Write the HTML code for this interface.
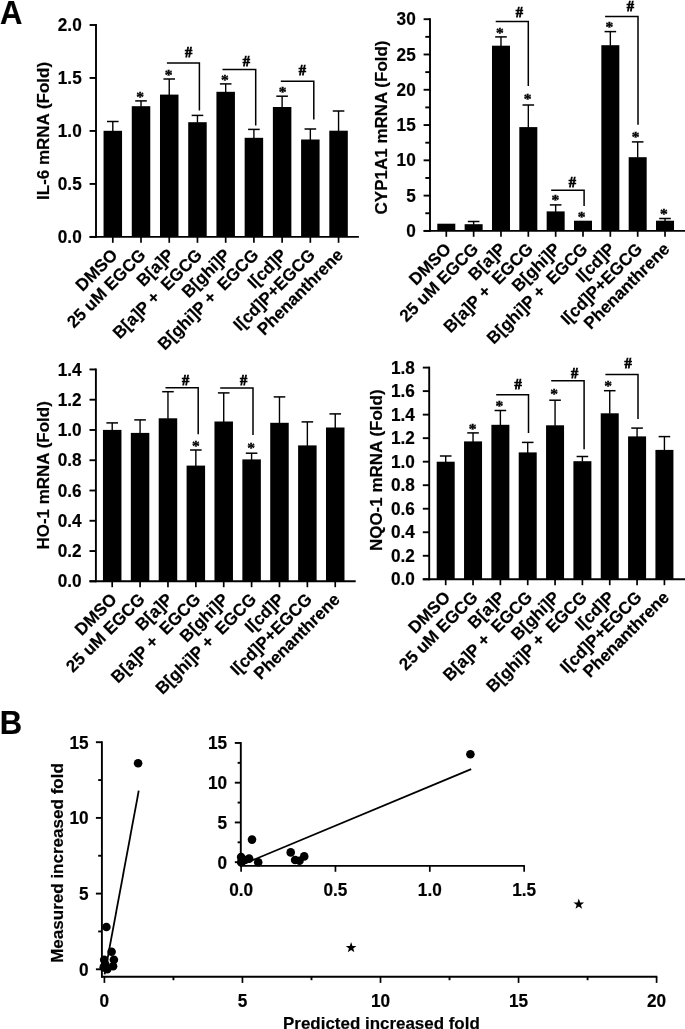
<!DOCTYPE html>
<html><head><meta charset="utf-8"><title>Figure</title>
<style>
html,body{margin:0;padding:0;background:#fff;overflow:hidden}
svg{display:block;will-change:transform}
text.s{font-family:"Liberation Sans",sans-serif;font-weight:bold;fill:#000;stroke:#000;stroke-width:0.18px}
text.r{font-family:"Liberation Serif",serif;font-weight:bold;fill:#000}
</style></head>
<body>
<svg width="685" height="1029" viewBox="0 0 685 1029">
<rect width="685" height="1029" fill="#fff"/>
<line x1="96.00" y1="24.05" x2="96.00" y2="237.85" stroke="#000" stroke-width="1.9" stroke-linecap="butt"/>
<line x1="89.60" y1="236.90" x2="96.00" y2="236.90" stroke="#000" stroke-width="1.9" stroke-linecap="butt"/>
<text class="s" font-size="17.2" text-anchor="end" transform="translate(81.70 243.01) scale(1 1.015)">0.0</text>
<line x1="89.60" y1="183.93" x2="96.00" y2="183.93" stroke="#000" stroke-width="1.9" stroke-linecap="butt"/>
<text class="s" font-size="17.2" text-anchor="end" transform="translate(81.70 190.03) scale(1 1.015)">0.5</text>
<line x1="89.60" y1="130.95" x2="96.00" y2="130.95" stroke="#000" stroke-width="1.9" stroke-linecap="butt"/>
<text class="s" font-size="17.2" text-anchor="end" transform="translate(81.70 137.06) scale(1 1.015)">1.0</text>
<line x1="89.60" y1="77.97" x2="96.00" y2="77.97" stroke="#000" stroke-width="1.9" stroke-linecap="butt"/>
<text class="s" font-size="17.2" text-anchor="end" transform="translate(81.70 84.08) scale(1 1.015)">1.5</text>
<line x1="89.60" y1="25.00" x2="96.00" y2="25.00" stroke="#000" stroke-width="1.9" stroke-linecap="butt"/>
<text class="s" font-size="17.2" text-anchor="end" transform="translate(81.70 31.11) scale(1 1.015)">2.0</text>
<line x1="89.60" y1="236.90" x2="358.90" y2="236.90" stroke="#000" stroke-width="1.9" stroke-linecap="butt"/>
<rect x="103.55" y="130.80" width="18.5" height="106.10" fill="#000"/>
<line x1="112.80" y1="121.50" x2="112.80" y2="131.30" stroke="#000" stroke-width="1.4" stroke-linecap="butt"/>
<line x1="107.00" y1="121.50" x2="118.60" y2="121.50" stroke="#000" stroke-width="1.5" stroke-linecap="butt"/>
<line x1="112.80" y1="236.90" x2="112.80" y2="242.80" stroke="#000" stroke-width="1.7" stroke-linecap="butt"/>
<text class="s" font-size="17.0" text-anchor="end" transform="translate(118.50 256.10) rotate(-45) scale(1 1.015)" xml:space="preserve">DMSO</text>
<rect x="131.77" y="106.20" width="18.5" height="130.70" fill="#000"/>
<line x1="141.02" y1="100.90" x2="141.02" y2="106.70" stroke="#000" stroke-width="1.4" stroke-linecap="butt"/>
<line x1="135.22" y1="100.90" x2="146.82" y2="100.90" stroke="#000" stroke-width="1.5" stroke-linecap="butt"/>
<line x1="141.02" y1="236.90" x2="141.02" y2="242.80" stroke="#000" stroke-width="1.7" stroke-linecap="butt"/>
<text class="s" font-size="17.0" text-anchor="end" transform="translate(146.72 256.10) rotate(-45) scale(1 1.015)" xml:space="preserve">25 uM EGCG</text>
<rect x="159.99" y="94.60" width="18.5" height="142.30" fill="#000"/>
<line x1="169.24" y1="79.00" x2="169.24" y2="95.10" stroke="#000" stroke-width="1.4" stroke-linecap="butt"/>
<line x1="163.44" y1="79.00" x2="175.04" y2="79.00" stroke="#000" stroke-width="1.5" stroke-linecap="butt"/>
<line x1="169.24" y1="236.90" x2="169.24" y2="242.80" stroke="#000" stroke-width="1.7" stroke-linecap="butt"/>
<text class="s" font-size="17.0" text-anchor="end" transform="translate(174.94 256.10) rotate(-45) scale(1 1.015)" xml:space="preserve">B[a]P</text>
<rect x="188.21" y="122.20" width="18.5" height="114.70" fill="#000"/>
<line x1="197.46" y1="115.40" x2="197.46" y2="122.70" stroke="#000" stroke-width="1.4" stroke-linecap="butt"/>
<line x1="191.66" y1="115.40" x2="203.26" y2="115.40" stroke="#000" stroke-width="1.5" stroke-linecap="butt"/>
<line x1="197.46" y1="236.90" x2="197.46" y2="242.80" stroke="#000" stroke-width="1.7" stroke-linecap="butt"/>
<text class="s" font-size="17.0" text-anchor="end" transform="translate(203.16 256.10) rotate(-45) scale(1 1.015)" xml:space="preserve">B[a]P +  EGCG</text>
<rect x="216.43" y="91.80" width="18.5" height="145.10" fill="#000"/>
<line x1="225.68" y1="83.90" x2="225.68" y2="92.30" stroke="#000" stroke-width="1.4" stroke-linecap="butt"/>
<line x1="219.88" y1="83.90" x2="231.48" y2="83.90" stroke="#000" stroke-width="1.5" stroke-linecap="butt"/>
<line x1="225.68" y1="236.90" x2="225.68" y2="242.80" stroke="#000" stroke-width="1.7" stroke-linecap="butt"/>
<text class="s" font-size="17.0" text-anchor="end" transform="translate(231.38 256.10) rotate(-45) scale(1 1.015)" xml:space="preserve">B[ghi]P</text>
<rect x="244.65" y="137.80" width="18.5" height="99.10" fill="#000"/>
<line x1="253.90" y1="129.40" x2="253.90" y2="138.30" stroke="#000" stroke-width="1.4" stroke-linecap="butt"/>
<line x1="248.10" y1="129.40" x2="259.70" y2="129.40" stroke="#000" stroke-width="1.5" stroke-linecap="butt"/>
<line x1="253.90" y1="236.90" x2="253.90" y2="242.80" stroke="#000" stroke-width="1.7" stroke-linecap="butt"/>
<text class="s" font-size="17.0" text-anchor="end" transform="translate(259.60 256.10) rotate(-45) scale(1 1.015)" xml:space="preserve">B[ghi]P +  EGCG</text>
<rect x="272.87" y="107.00" width="18.5" height="129.90" fill="#000"/>
<line x1="282.12" y1="96.20" x2="282.12" y2="107.50" stroke="#000" stroke-width="1.4" stroke-linecap="butt"/>
<line x1="276.32" y1="96.20" x2="287.92" y2="96.20" stroke="#000" stroke-width="1.5" stroke-linecap="butt"/>
<line x1="282.12" y1="236.90" x2="282.12" y2="242.80" stroke="#000" stroke-width="1.7" stroke-linecap="butt"/>
<text class="s" font-size="17.0" text-anchor="end" transform="translate(287.82 256.10) rotate(-45) scale(1 1.015)" xml:space="preserve">I[cd]P</text>
<rect x="301.09" y="139.50" width="18.5" height="97.40" fill="#000"/>
<line x1="310.34" y1="129.00" x2="310.34" y2="140.00" stroke="#000" stroke-width="1.4" stroke-linecap="butt"/>
<line x1="304.54" y1="129.00" x2="316.14" y2="129.00" stroke="#000" stroke-width="1.5" stroke-linecap="butt"/>
<line x1="310.34" y1="236.90" x2="310.34" y2="242.80" stroke="#000" stroke-width="1.7" stroke-linecap="butt"/>
<text class="s" font-size="17.0" text-anchor="end" transform="translate(316.04 256.10) rotate(-45) scale(1 1.015)" xml:space="preserve">I[cd]P+EGCG</text>
<rect x="329.31" y="130.70" width="18.5" height="106.20" fill="#000"/>
<line x1="338.56" y1="111.00" x2="338.56" y2="131.20" stroke="#000" stroke-width="1.4" stroke-linecap="butt"/>
<line x1="332.76" y1="111.00" x2="344.36" y2="111.00" stroke="#000" stroke-width="1.5" stroke-linecap="butt"/>
<line x1="338.56" y1="236.90" x2="338.56" y2="242.80" stroke="#000" stroke-width="1.7" stroke-linecap="butt"/>
<text class="s" font-size="17.0" text-anchor="end" transform="translate(344.26 256.10) rotate(-45) scale(1 1.015)" xml:space="preserve">Phenanthrene</text>
<text class="r" font-size="15.5" text-anchor="middle" transform="translate(140.10 102.30)" stroke="#000" stroke-width="0.4">*</text>
<text class="r" font-size="15.5" text-anchor="middle" transform="translate(168.60 79.70)" stroke="#000" stroke-width="0.4">*</text>
<text class="r" font-size="15.5" text-anchor="middle" transform="translate(224.80 84.70)" stroke="#000" stroke-width="0.4">*</text>
<text class="r" font-size="15.5" text-anchor="middle" transform="translate(282.50 96.90)" stroke="#000" stroke-width="0.4">*</text>
<polyline points="166.90,63.00 199.40,63.00 199.40,110.40" fill="none" stroke="#000" stroke-width="1.5"/>
<text class="r" font-size="14.5" text-anchor="middle" transform="translate(188.50 57.10)" stroke="#000" stroke-width="0.75">#</text>
<polyline points="222.50,69.50 255.70,69.50 255.70,125.40" fill="none" stroke="#000" stroke-width="1.5"/>
<text class="r" font-size="14.5" text-anchor="middle" transform="translate(246.30 66.40)" stroke="#000" stroke-width="0.75">#</text>
<polyline points="280.80,81.20 313.80,81.20 313.80,119.60" fill="none" stroke="#000" stroke-width="1.5"/>
<text class="r" font-size="14.5" text-anchor="middle" transform="translate(302.30 75.10)" stroke="#000" stroke-width="0.75">#</text>
<text class="s" font-size="17" text-anchor="middle" transform="translate(48.70 130.95) rotate(-90) scale(1 1.015)">IL-6 mRNA (Fold)</text>
<line x1="430.00" y1="18.25" x2="430.00" y2="231.85" stroke="#000" stroke-width="1.9" stroke-linecap="butt"/>
<line x1="423.60" y1="230.90" x2="430.00" y2="230.90" stroke="#000" stroke-width="1.9" stroke-linecap="butt"/>
<text class="s" font-size="17.2" text-anchor="end" transform="translate(415.70 237.01) scale(1 1.015)">0</text>
<line x1="423.60" y1="195.62" x2="430.00" y2="195.62" stroke="#000" stroke-width="1.9" stroke-linecap="butt"/>
<text class="s" font-size="17.2" text-anchor="end" transform="translate(415.70 201.72) scale(1 1.015)">5</text>
<line x1="423.60" y1="160.33" x2="430.00" y2="160.33" stroke="#000" stroke-width="1.9" stroke-linecap="butt"/>
<text class="s" font-size="17.2" text-anchor="end" transform="translate(415.70 166.44) scale(1 1.015)">10</text>
<line x1="423.60" y1="125.05" x2="430.00" y2="125.05" stroke="#000" stroke-width="1.9" stroke-linecap="butt"/>
<text class="s" font-size="17.2" text-anchor="end" transform="translate(415.70 131.16) scale(1 1.015)">15</text>
<line x1="423.60" y1="89.77" x2="430.00" y2="89.77" stroke="#000" stroke-width="1.9" stroke-linecap="butt"/>
<text class="s" font-size="17.2" text-anchor="end" transform="translate(415.70 95.87) scale(1 1.015)">20</text>
<line x1="423.60" y1="54.48" x2="430.00" y2="54.48" stroke="#000" stroke-width="1.9" stroke-linecap="butt"/>
<text class="s" font-size="17.2" text-anchor="end" transform="translate(415.70 60.59) scale(1 1.015)">25</text>
<line x1="423.60" y1="19.20" x2="430.00" y2="19.20" stroke="#000" stroke-width="1.9" stroke-linecap="butt"/>
<text class="s" font-size="17.2" text-anchor="end" transform="translate(415.70 25.31) scale(1 1.015)">30</text>
<line x1="425.30" y1="213.26" x2="430.00" y2="213.26" stroke="#000" stroke-width="1.9" stroke-linecap="butt"/>
<line x1="425.30" y1="177.97" x2="430.00" y2="177.97" stroke="#000" stroke-width="1.9" stroke-linecap="butt"/>
<line x1="425.30" y1="142.69" x2="430.00" y2="142.69" stroke="#000" stroke-width="1.9" stroke-linecap="butt"/>
<line x1="425.30" y1="107.41" x2="430.00" y2="107.41" stroke="#000" stroke-width="1.9" stroke-linecap="butt"/>
<line x1="425.30" y1="72.12" x2="430.00" y2="72.12" stroke="#000" stroke-width="1.9" stroke-linecap="butt"/>
<line x1="425.30" y1="36.84" x2="430.00" y2="36.84" stroke="#000" stroke-width="1.9" stroke-linecap="butt"/>
<line x1="423.60" y1="230.90" x2="686.00" y2="230.90" stroke="#000" stroke-width="1.9" stroke-linecap="butt"/>
<rect x="437.30" y="223.70" width="18.0" height="7.20" fill="#000"/>
<line x1="446.30" y1="230.90" x2="446.30" y2="236.80" stroke="#000" stroke-width="1.7" stroke-linecap="butt"/>
<text class="s" font-size="17.0" text-anchor="end" transform="translate(452.00 250.10) rotate(-45) scale(1 1.015)" xml:space="preserve">DMSO</text>
<rect x="464.64" y="224.20" width="18.0" height="6.70" fill="#000"/>
<line x1="473.64" y1="221.50" x2="473.64" y2="224.70" stroke="#000" stroke-width="1.4" stroke-linecap="butt"/>
<line x1="467.84" y1="221.50" x2="479.44" y2="221.50" stroke="#000" stroke-width="1.5" stroke-linecap="butt"/>
<line x1="473.64" y1="230.90" x2="473.64" y2="236.80" stroke="#000" stroke-width="1.7" stroke-linecap="butt"/>
<text class="s" font-size="17.0" text-anchor="end" transform="translate(479.34 250.10) rotate(-45) scale(1 1.015)" xml:space="preserve">25 uM EGCG</text>
<rect x="491.98" y="45.70" width="18.0" height="185.20" fill="#000"/>
<line x1="500.98" y1="36.90" x2="500.98" y2="46.20" stroke="#000" stroke-width="1.4" stroke-linecap="butt"/>
<line x1="495.18" y1="36.90" x2="506.78" y2="36.90" stroke="#000" stroke-width="1.5" stroke-linecap="butt"/>
<line x1="500.98" y1="230.90" x2="500.98" y2="236.80" stroke="#000" stroke-width="1.7" stroke-linecap="butt"/>
<text class="s" font-size="17.0" text-anchor="end" transform="translate(506.68 250.10) rotate(-45) scale(1 1.015)" xml:space="preserve">B[a]P</text>
<rect x="519.32" y="127.10" width="18.0" height="103.80" fill="#000"/>
<line x1="528.32" y1="105.00" x2="528.32" y2="127.60" stroke="#000" stroke-width="1.4" stroke-linecap="butt"/>
<line x1="522.52" y1="105.00" x2="534.12" y2="105.00" stroke="#000" stroke-width="1.5" stroke-linecap="butt"/>
<line x1="528.32" y1="230.90" x2="528.32" y2="236.80" stroke="#000" stroke-width="1.7" stroke-linecap="butt"/>
<text class="s" font-size="17.0" text-anchor="end" transform="translate(534.02 250.10) rotate(-45) scale(1 1.015)" xml:space="preserve">B[a]P +  EGCG</text>
<rect x="546.66" y="211.40" width="18.0" height="19.50" fill="#000"/>
<line x1="555.66" y1="204.90" x2="555.66" y2="211.90" stroke="#000" stroke-width="1.4" stroke-linecap="butt"/>
<line x1="549.86" y1="204.90" x2="561.46" y2="204.90" stroke="#000" stroke-width="1.5" stroke-linecap="butt"/>
<line x1="555.66" y1="230.90" x2="555.66" y2="236.80" stroke="#000" stroke-width="1.7" stroke-linecap="butt"/>
<text class="s" font-size="17.0" text-anchor="end" transform="translate(561.36 250.10) rotate(-45) scale(1 1.015)" xml:space="preserve">B[ghi]P</text>
<rect x="574.00" y="220.70" width="18.0" height="10.20" fill="#000"/>
<line x1="583.00" y1="230.90" x2="583.00" y2="236.80" stroke="#000" stroke-width="1.7" stroke-linecap="butt"/>
<text class="s" font-size="17.0" text-anchor="end" transform="translate(588.70 250.10) rotate(-45) scale(1 1.015)" xml:space="preserve">B[ghi]P +  EGCG</text>
<rect x="601.34" y="45.20" width="18.0" height="185.70" fill="#000"/>
<line x1="610.34" y1="31.60" x2="610.34" y2="45.70" stroke="#000" stroke-width="1.4" stroke-linecap="butt"/>
<line x1="604.54" y1="31.60" x2="616.14" y2="31.60" stroke="#000" stroke-width="1.5" stroke-linecap="butt"/>
<line x1="610.34" y1="230.90" x2="610.34" y2="236.80" stroke="#000" stroke-width="1.7" stroke-linecap="butt"/>
<text class="s" font-size="17.0" text-anchor="end" transform="translate(616.04 250.10) rotate(-45) scale(1 1.015)" xml:space="preserve">I[cd]P</text>
<rect x="628.68" y="157.20" width="18.0" height="73.70" fill="#000"/>
<line x1="637.68" y1="141.90" x2="637.68" y2="157.70" stroke="#000" stroke-width="1.4" stroke-linecap="butt"/>
<line x1="631.88" y1="141.90" x2="643.48" y2="141.90" stroke="#000" stroke-width="1.5" stroke-linecap="butt"/>
<line x1="637.68" y1="230.90" x2="637.68" y2="236.80" stroke="#000" stroke-width="1.7" stroke-linecap="butt"/>
<text class="s" font-size="17.0" text-anchor="end" transform="translate(643.38 250.10) rotate(-45) scale(1 1.015)" xml:space="preserve">I[cd]P+EGCG</text>
<rect x="656.02" y="220.70" width="18.0" height="10.20" fill="#000"/>
<line x1="665.02" y1="218.50" x2="665.02" y2="221.20" stroke="#000" stroke-width="1.4" stroke-linecap="butt"/>
<line x1="659.22" y1="218.50" x2="670.82" y2="218.50" stroke="#000" stroke-width="1.5" stroke-linecap="butt"/>
<line x1="665.02" y1="230.90" x2="665.02" y2="236.80" stroke="#000" stroke-width="1.7" stroke-linecap="butt"/>
<text class="s" font-size="17.0" text-anchor="end" transform="translate(670.72 250.10) rotate(-45) scale(1 1.015)" xml:space="preserve">Phenanthrene</text>
<text class="r" font-size="15.5" text-anchor="middle" transform="translate(499.90 37.50)" stroke="#000" stroke-width="0.4">*</text>
<text class="r" font-size="15.5" text-anchor="middle" transform="translate(527.70 104.30)" stroke="#000" stroke-width="0.4">*</text>
<text class="r" font-size="15.5" text-anchor="middle" transform="translate(555.40 205.30)" stroke="#000" stroke-width="0.4">*</text>
<text class="r" font-size="15.5" text-anchor="middle" transform="translate(581.50 221.90)" stroke="#000" stroke-width="0.4">*</text>
<text class="r" font-size="15.5" text-anchor="middle" transform="translate(609.40 32.00)" stroke="#000" stroke-width="0.4">*</text>
<text class="r" font-size="15.5" text-anchor="middle" transform="translate(635.50 142.00)" stroke="#000" stroke-width="0.4">*</text>
<text class="r" font-size="15.5" text-anchor="middle" transform="translate(663.80 219.30)" stroke="#000" stroke-width="0.4">*</text>
<polyline points="495.70,21.60 528.30,21.60 528.30,85.90" fill="none" stroke="#000" stroke-width="1.5"/>
<text class="r" font-size="14.5" text-anchor="middle" transform="translate(519.30 17.20)" stroke="#000" stroke-width="0.75">#</text>
<polyline points="551.20,190.30 584.10,190.30 584.10,205.90" fill="none" stroke="#000" stroke-width="1.5"/>
<text class="r" font-size="14.5" text-anchor="middle" transform="translate(572.30 186.60)" stroke="#000" stroke-width="0.75">#</text>
<polyline points="605.10,16.60 638.00,16.60 638.00,124.80" fill="none" stroke="#000" stroke-width="1.5"/>
<text class="r" font-size="14.5" text-anchor="middle" transform="translate(630.30 10.90)" stroke="#000" stroke-width="0.75">#</text>
<text class="s" font-size="17" text-anchor="middle" transform="translate(386.50 127.45) rotate(-90) scale(1 1.015)">CYP1A1 mRNA (Fold)</text>
<line x1="95.90" y1="368.50" x2="95.90" y2="582.25" stroke="#000" stroke-width="1.9" stroke-linecap="butt"/>
<line x1="89.50" y1="581.30" x2="95.90" y2="581.30" stroke="#000" stroke-width="1.9" stroke-linecap="butt"/>
<text class="s" font-size="17.2" text-anchor="end" transform="translate(81.60 587.41) scale(1 1.015)">0.0</text>
<line x1="89.50" y1="551.04" x2="95.90" y2="551.04" stroke="#000" stroke-width="1.9" stroke-linecap="butt"/>
<text class="s" font-size="17.2" text-anchor="end" transform="translate(81.60 557.14) scale(1 1.015)">0.2</text>
<line x1="89.50" y1="520.77" x2="95.90" y2="520.77" stroke="#000" stroke-width="1.9" stroke-linecap="butt"/>
<text class="s" font-size="17.2" text-anchor="end" transform="translate(81.60 526.88) scale(1 1.015)">0.4</text>
<line x1="89.50" y1="490.51" x2="95.90" y2="490.51" stroke="#000" stroke-width="1.9" stroke-linecap="butt"/>
<text class="s" font-size="17.2" text-anchor="end" transform="translate(81.60 496.61) scale(1 1.015)">0.6</text>
<line x1="89.50" y1="460.24" x2="95.90" y2="460.24" stroke="#000" stroke-width="1.9" stroke-linecap="butt"/>
<text class="s" font-size="17.2" text-anchor="end" transform="translate(81.60 466.35) scale(1 1.015)">0.8</text>
<line x1="89.50" y1="429.98" x2="95.90" y2="429.98" stroke="#000" stroke-width="1.9" stroke-linecap="butt"/>
<text class="s" font-size="17.2" text-anchor="end" transform="translate(81.60 436.08) scale(1 1.015)">1.0</text>
<line x1="89.50" y1="399.71" x2="95.90" y2="399.71" stroke="#000" stroke-width="1.9" stroke-linecap="butt"/>
<text class="s" font-size="17.2" text-anchor="end" transform="translate(81.60 405.82) scale(1 1.015)">1.2</text>
<line x1="89.50" y1="369.45" x2="95.90" y2="369.45" stroke="#000" stroke-width="1.9" stroke-linecap="butt"/>
<text class="s" font-size="17.2" text-anchor="end" transform="translate(81.60 375.56) scale(1 1.015)">1.4</text>
<line x1="89.50" y1="581.30" x2="355.70" y2="581.30" stroke="#000" stroke-width="1.9" stroke-linecap="butt"/>
<rect x="102.95" y="429.90" width="18.5" height="151.40" fill="#000"/>
<line x1="112.20" y1="422.90" x2="112.20" y2="430.40" stroke="#000" stroke-width="1.4" stroke-linecap="butt"/>
<line x1="106.40" y1="422.90" x2="118.00" y2="422.90" stroke="#000" stroke-width="1.5" stroke-linecap="butt"/>
<line x1="112.20" y1="581.30" x2="112.20" y2="587.20" stroke="#000" stroke-width="1.7" stroke-linecap="butt"/>
<text class="s" font-size="17.0" text-anchor="end" transform="translate(117.90 600.50) rotate(-45) scale(1 1.015)" xml:space="preserve">DMSO</text>
<rect x="130.83" y="432.90" width="18.5" height="148.40" fill="#000"/>
<line x1="140.08" y1="419.90" x2="140.08" y2="433.40" stroke="#000" stroke-width="1.4" stroke-linecap="butt"/>
<line x1="134.28" y1="419.90" x2="145.88" y2="419.90" stroke="#000" stroke-width="1.5" stroke-linecap="butt"/>
<line x1="140.08" y1="581.30" x2="140.08" y2="587.20" stroke="#000" stroke-width="1.7" stroke-linecap="butt"/>
<text class="s" font-size="17.0" text-anchor="end" transform="translate(145.78 600.50) rotate(-45) scale(1 1.015)" xml:space="preserve">25 uM EGCG</text>
<rect x="158.71" y="418.30" width="18.5" height="163.00" fill="#000"/>
<line x1="167.96" y1="391.70" x2="167.96" y2="418.80" stroke="#000" stroke-width="1.4" stroke-linecap="butt"/>
<line x1="162.16" y1="391.70" x2="173.76" y2="391.70" stroke="#000" stroke-width="1.5" stroke-linecap="butt"/>
<line x1="167.96" y1="581.30" x2="167.96" y2="587.20" stroke="#000" stroke-width="1.7" stroke-linecap="butt"/>
<text class="s" font-size="17.0" text-anchor="end" transform="translate(173.66 600.50) rotate(-45) scale(1 1.015)" xml:space="preserve">B[a]P</text>
<rect x="186.59" y="465.60" width="18.5" height="115.70" fill="#000"/>
<line x1="195.84" y1="450.00" x2="195.84" y2="466.10" stroke="#000" stroke-width="1.4" stroke-linecap="butt"/>
<line x1="190.04" y1="450.00" x2="201.64" y2="450.00" stroke="#000" stroke-width="1.5" stroke-linecap="butt"/>
<line x1="195.84" y1="581.30" x2="195.84" y2="587.20" stroke="#000" stroke-width="1.7" stroke-linecap="butt"/>
<text class="s" font-size="17.0" text-anchor="end" transform="translate(201.54 600.50) rotate(-45) scale(1 1.015)" xml:space="preserve">B[a]P +  EGCG</text>
<rect x="214.47" y="421.50" width="18.5" height="159.80" fill="#000"/>
<line x1="223.72" y1="392.90" x2="223.72" y2="422.00" stroke="#000" stroke-width="1.4" stroke-linecap="butt"/>
<line x1="217.92" y1="392.90" x2="229.52" y2="392.90" stroke="#000" stroke-width="1.5" stroke-linecap="butt"/>
<line x1="223.72" y1="581.30" x2="223.72" y2="587.20" stroke="#000" stroke-width="1.7" stroke-linecap="butt"/>
<text class="s" font-size="17.0" text-anchor="end" transform="translate(229.42 600.50) rotate(-45) scale(1 1.015)" xml:space="preserve">B[ghi]P</text>
<rect x="242.35" y="459.40" width="18.5" height="121.90" fill="#000"/>
<line x1="251.60" y1="453.20" x2="251.60" y2="459.90" stroke="#000" stroke-width="1.4" stroke-linecap="butt"/>
<line x1="245.80" y1="453.20" x2="257.40" y2="453.20" stroke="#000" stroke-width="1.5" stroke-linecap="butt"/>
<line x1="251.60" y1="581.30" x2="251.60" y2="587.20" stroke="#000" stroke-width="1.7" stroke-linecap="butt"/>
<text class="s" font-size="17.0" text-anchor="end" transform="translate(257.30 600.50) rotate(-45) scale(1 1.015)" xml:space="preserve">B[ghi]P +  EGCG</text>
<rect x="270.23" y="422.80" width="18.5" height="158.50" fill="#000"/>
<line x1="279.48" y1="396.90" x2="279.48" y2="423.30" stroke="#000" stroke-width="1.4" stroke-linecap="butt"/>
<line x1="273.68" y1="396.90" x2="285.28" y2="396.90" stroke="#000" stroke-width="1.5" stroke-linecap="butt"/>
<line x1="279.48" y1="581.30" x2="279.48" y2="587.20" stroke="#000" stroke-width="1.7" stroke-linecap="butt"/>
<text class="s" font-size="17.0" text-anchor="end" transform="translate(285.18 600.50) rotate(-45) scale(1 1.015)" xml:space="preserve">I[cd]P</text>
<rect x="298.11" y="445.40" width="18.5" height="135.90" fill="#000"/>
<line x1="307.36" y1="421.90" x2="307.36" y2="445.90" stroke="#000" stroke-width="1.4" stroke-linecap="butt"/>
<line x1="301.56" y1="421.90" x2="313.16" y2="421.90" stroke="#000" stroke-width="1.5" stroke-linecap="butt"/>
<line x1="307.36" y1="581.30" x2="307.36" y2="587.20" stroke="#000" stroke-width="1.7" stroke-linecap="butt"/>
<text class="s" font-size="17.0" text-anchor="end" transform="translate(313.06 600.50) rotate(-45) scale(1 1.015)" xml:space="preserve">I[cd]P+EGCG</text>
<rect x="325.99" y="427.50" width="18.5" height="153.80" fill="#000"/>
<line x1="335.24" y1="413.90" x2="335.24" y2="428.00" stroke="#000" stroke-width="1.4" stroke-linecap="butt"/>
<line x1="329.44" y1="413.90" x2="341.04" y2="413.90" stroke="#000" stroke-width="1.5" stroke-linecap="butt"/>
<line x1="335.24" y1="581.30" x2="335.24" y2="587.20" stroke="#000" stroke-width="1.7" stroke-linecap="butt"/>
<text class="s" font-size="17.0" text-anchor="end" transform="translate(340.94 600.50) rotate(-45) scale(1 1.015)" xml:space="preserve">Phenanthrene</text>
<text class="r" font-size="15.5" text-anchor="middle" transform="translate(195.90 451.10)" stroke="#000" stroke-width="0.4">*</text>
<text class="r" font-size="15.5" text-anchor="middle" transform="translate(251.00 453.40)" stroke="#000" stroke-width="0.4">*</text>
<polyline points="165.50,387.70 198.20,387.70 198.20,434.20" fill="none" stroke="#000" stroke-width="1.5"/>
<text class="r" font-size="14.5" text-anchor="middle" transform="translate(185.60 384.80)" stroke="#000" stroke-width="0.75">#</text>
<polyline points="220.20,388.00 253.00,388.00 253.00,434.90" fill="none" stroke="#000" stroke-width="1.5"/>
<text class="r" font-size="14.5" text-anchor="middle" transform="translate(243.60 384.80)" stroke="#000" stroke-width="0.75">#</text>
<text class="s" font-size="17" text-anchor="middle" transform="translate(49.30 475.38) rotate(-90) scale(1 1.015)">HO-1 mRNA (Fold)</text>
<line x1="429.20" y1="366.65" x2="429.20" y2="580.25" stroke="#000" stroke-width="1.9" stroke-linecap="butt"/>
<line x1="422.80" y1="579.30" x2="429.20" y2="579.30" stroke="#000" stroke-width="1.9" stroke-linecap="butt"/>
<text class="s" font-size="17.2" text-anchor="end" transform="translate(414.90 585.41) scale(1 1.015)">0.0</text>
<line x1="422.80" y1="555.78" x2="429.20" y2="555.78" stroke="#000" stroke-width="1.9" stroke-linecap="butt"/>
<text class="s" font-size="17.2" text-anchor="end" transform="translate(414.90 561.88) scale(1 1.015)">0.2</text>
<line x1="422.80" y1="532.26" x2="429.20" y2="532.26" stroke="#000" stroke-width="1.9" stroke-linecap="butt"/>
<text class="s" font-size="17.2" text-anchor="end" transform="translate(414.90 538.36) scale(1 1.015)">0.4</text>
<line x1="422.80" y1="508.73" x2="429.20" y2="508.73" stroke="#000" stroke-width="1.9" stroke-linecap="butt"/>
<text class="s" font-size="17.2" text-anchor="end" transform="translate(414.90 514.84) scale(1 1.015)">0.6</text>
<line x1="422.80" y1="485.21" x2="429.20" y2="485.21" stroke="#000" stroke-width="1.9" stroke-linecap="butt"/>
<text class="s" font-size="17.2" text-anchor="end" transform="translate(414.90 491.32) scale(1 1.015)">0.8</text>
<line x1="422.80" y1="461.69" x2="429.20" y2="461.69" stroke="#000" stroke-width="1.9" stroke-linecap="butt"/>
<text class="s" font-size="17.2" text-anchor="end" transform="translate(414.90 467.79) scale(1 1.015)">1.0</text>
<line x1="422.80" y1="438.17" x2="429.20" y2="438.17" stroke="#000" stroke-width="1.9" stroke-linecap="butt"/>
<text class="s" font-size="17.2" text-anchor="end" transform="translate(414.90 444.27) scale(1 1.015)">1.2</text>
<line x1="422.80" y1="414.64" x2="429.20" y2="414.64" stroke="#000" stroke-width="1.9" stroke-linecap="butt"/>
<text class="s" font-size="17.2" text-anchor="end" transform="translate(414.90 420.75) scale(1 1.015)">1.4</text>
<line x1="422.80" y1="391.12" x2="429.20" y2="391.12" stroke="#000" stroke-width="1.9" stroke-linecap="butt"/>
<text class="s" font-size="17.2" text-anchor="end" transform="translate(414.90 397.23) scale(1 1.015)">1.6</text>
<line x1="422.80" y1="367.60" x2="429.20" y2="367.60" stroke="#000" stroke-width="1.9" stroke-linecap="butt"/>
<text class="s" font-size="17.2" text-anchor="end" transform="translate(414.90 373.71) scale(1 1.015)">1.8</text>
<line x1="422.80" y1="579.30" x2="686.00" y2="579.30" stroke="#000" stroke-width="1.9" stroke-linecap="butt"/>
<rect x="436.70" y="461.70" width="18.0" height="117.60" fill="#000"/>
<line x1="445.70" y1="456.00" x2="445.70" y2="462.20" stroke="#000" stroke-width="1.4" stroke-linecap="butt"/>
<line x1="439.90" y1="456.00" x2="451.50" y2="456.00" stroke="#000" stroke-width="1.5" stroke-linecap="butt"/>
<line x1="445.70" y1="579.30" x2="445.70" y2="585.20" stroke="#000" stroke-width="1.7" stroke-linecap="butt"/>
<text class="s" font-size="17.0" text-anchor="end" transform="translate(451.40 598.50) rotate(-45) scale(1 1.015)" xml:space="preserve">DMSO</text>
<rect x="464.04" y="441.40" width="18.0" height="137.90" fill="#000"/>
<line x1="473.04" y1="432.90" x2="473.04" y2="441.90" stroke="#000" stroke-width="1.4" stroke-linecap="butt"/>
<line x1="467.24" y1="432.90" x2="478.84" y2="432.90" stroke="#000" stroke-width="1.5" stroke-linecap="butt"/>
<line x1="473.04" y1="579.30" x2="473.04" y2="585.20" stroke="#000" stroke-width="1.7" stroke-linecap="butt"/>
<text class="s" font-size="17.0" text-anchor="end" transform="translate(478.74 598.50) rotate(-45) scale(1 1.015)" xml:space="preserve">25 uM EGCG</text>
<rect x="491.38" y="424.80" width="18.0" height="154.50" fill="#000"/>
<line x1="500.38" y1="410.50" x2="500.38" y2="425.30" stroke="#000" stroke-width="1.4" stroke-linecap="butt"/>
<line x1="494.58" y1="410.50" x2="506.18" y2="410.50" stroke="#000" stroke-width="1.5" stroke-linecap="butt"/>
<line x1="500.38" y1="579.30" x2="500.38" y2="585.20" stroke="#000" stroke-width="1.7" stroke-linecap="butt"/>
<text class="s" font-size="17.0" text-anchor="end" transform="translate(506.08 598.50) rotate(-45) scale(1 1.015)" xml:space="preserve">B[a]P</text>
<rect x="518.72" y="452.40" width="18.0" height="126.90" fill="#000"/>
<line x1="527.72" y1="442.40" x2="527.72" y2="452.90" stroke="#000" stroke-width="1.4" stroke-linecap="butt"/>
<line x1="521.92" y1="442.40" x2="533.52" y2="442.40" stroke="#000" stroke-width="1.5" stroke-linecap="butt"/>
<line x1="527.72" y1="579.30" x2="527.72" y2="585.20" stroke="#000" stroke-width="1.7" stroke-linecap="butt"/>
<text class="s" font-size="17.0" text-anchor="end" transform="translate(533.42 598.50) rotate(-45) scale(1 1.015)" xml:space="preserve">B[a]P +  EGCG</text>
<rect x="546.06" y="425.30" width="18.0" height="154.00" fill="#000"/>
<line x1="555.06" y1="400.20" x2="555.06" y2="425.80" stroke="#000" stroke-width="1.4" stroke-linecap="butt"/>
<line x1="549.26" y1="400.20" x2="560.86" y2="400.20" stroke="#000" stroke-width="1.5" stroke-linecap="butt"/>
<line x1="555.06" y1="579.30" x2="555.06" y2="585.20" stroke="#000" stroke-width="1.7" stroke-linecap="butt"/>
<text class="s" font-size="17.0" text-anchor="end" transform="translate(560.76 598.50) rotate(-45) scale(1 1.015)" xml:space="preserve">B[ghi]P</text>
<rect x="573.40" y="461.20" width="18.0" height="118.10" fill="#000"/>
<line x1="582.40" y1="456.50" x2="582.40" y2="461.70" stroke="#000" stroke-width="1.4" stroke-linecap="butt"/>
<line x1="576.60" y1="456.50" x2="588.20" y2="456.50" stroke="#000" stroke-width="1.5" stroke-linecap="butt"/>
<line x1="582.40" y1="579.30" x2="582.40" y2="585.20" stroke="#000" stroke-width="1.7" stroke-linecap="butt"/>
<text class="s" font-size="17.0" text-anchor="end" transform="translate(588.10 598.50) rotate(-45) scale(1 1.015)" xml:space="preserve">B[ghi]P +  EGCG</text>
<rect x="600.74" y="413.30" width="18.0" height="166.00" fill="#000"/>
<line x1="609.74" y1="390.70" x2="609.74" y2="413.80" stroke="#000" stroke-width="1.4" stroke-linecap="butt"/>
<line x1="603.94" y1="390.70" x2="615.54" y2="390.70" stroke="#000" stroke-width="1.5" stroke-linecap="butt"/>
<line x1="609.74" y1="579.30" x2="609.74" y2="585.20" stroke="#000" stroke-width="1.7" stroke-linecap="butt"/>
<text class="s" font-size="17.0" text-anchor="end" transform="translate(615.44 598.50) rotate(-45) scale(1 1.015)" xml:space="preserve">I[cd]P</text>
<rect x="628.08" y="436.40" width="18.0" height="142.90" fill="#000"/>
<line x1="637.08" y1="428.10" x2="637.08" y2="436.90" stroke="#000" stroke-width="1.4" stroke-linecap="butt"/>
<line x1="631.28" y1="428.10" x2="642.88" y2="428.10" stroke="#000" stroke-width="1.5" stroke-linecap="butt"/>
<line x1="637.08" y1="579.30" x2="637.08" y2="585.20" stroke="#000" stroke-width="1.7" stroke-linecap="butt"/>
<text class="s" font-size="17.0" text-anchor="end" transform="translate(642.78 598.50) rotate(-45) scale(1 1.015)" xml:space="preserve">I[cd]P+EGCG</text>
<rect x="655.42" y="449.90" width="18.0" height="129.40" fill="#000"/>
<line x1="664.42" y1="436.60" x2="664.42" y2="450.40" stroke="#000" stroke-width="1.4" stroke-linecap="butt"/>
<line x1="658.62" y1="436.60" x2="670.22" y2="436.60" stroke="#000" stroke-width="1.5" stroke-linecap="butt"/>
<line x1="664.42" y1="579.30" x2="664.42" y2="585.20" stroke="#000" stroke-width="1.7" stroke-linecap="butt"/>
<text class="s" font-size="17.0" text-anchor="end" transform="translate(670.12 598.50) rotate(-45) scale(1 1.015)" xml:space="preserve">Phenanthrene</text>
<text class="r" font-size="15.5" text-anchor="middle" transform="translate(472.50 434.20)" stroke="#000" stroke-width="0.4">*</text>
<text class="r" font-size="15.5" text-anchor="middle" transform="translate(499.40 411.10)" stroke="#000" stroke-width="0.4">*</text>
<text class="r" font-size="15.5" text-anchor="middle" transform="translate(554.00 399.10)" stroke="#000" stroke-width="0.4">*</text>
<text class="r" font-size="15.5" text-anchor="middle" transform="translate(608.10 391.30)" stroke="#000" stroke-width="0.4">*</text>
<polyline points="496.20,394.70 528.50,394.70 528.50,432.90" fill="none" stroke="#000" stroke-width="1.5"/>
<text class="r" font-size="14.5" text-anchor="middle" transform="translate(518.00 388.50)" stroke="#000" stroke-width="0.75">#</text>
<polyline points="551.20,380.70 584.10,380.70 584.10,449.20" fill="none" stroke="#000" stroke-width="1.5"/>
<text class="r" font-size="14.5" text-anchor="middle" transform="translate(574.50 377.70)" stroke="#000" stroke-width="0.75">#</text>
<polyline points="605.40,374.60 638.00,374.60 638.00,419.00" fill="none" stroke="#000" stroke-width="1.5"/>
<text class="r" font-size="14.5" text-anchor="middle" transform="translate(628.00 368.40)" stroke="#000" stroke-width="0.75">#</text>
<text class="s" font-size="17" text-anchor="middle" transform="translate(381.80 470.25) rotate(-90) scale(1 1.015)">NQO-1 mRNA (Fold)</text>
<text class="s" font-size="32" transform="translate(-0.1 23.8) scale(0.97 1.035)">A</text>
<text class="s" font-size="32" transform="translate(-0.2 734.3) scale(0.97 1.035)">B</text>
<line x1="101.90" y1="741.30" x2="101.90" y2="977.60" stroke="#000" stroke-width="1.9" stroke-linecap="butt"/>
<line x1="101.00" y1="976.70" x2="657.30" y2="976.70" stroke="#000" stroke-width="1.9" stroke-linecap="butt"/>
<line x1="95.90" y1="969.30" x2="101.90" y2="969.30" stroke="#000" stroke-width="1.9" stroke-linecap="butt"/>
<text class="s" font-size="17.2" text-anchor="end" transform="translate(88.50 975.71) scale(1 1.015)">0</text>
<line x1="95.90" y1="893.60" x2="101.90" y2="893.60" stroke="#000" stroke-width="1.9" stroke-linecap="butt"/>
<text class="s" font-size="17.2" text-anchor="end" transform="translate(88.50 900.01) scale(1 1.015)">5</text>
<line x1="95.90" y1="817.90" x2="101.90" y2="817.90" stroke="#000" stroke-width="1.9" stroke-linecap="butt"/>
<text class="s" font-size="17.2" text-anchor="end" transform="translate(88.50 824.31) scale(1 1.015)">10</text>
<line x1="95.90" y1="742.20" x2="101.90" y2="742.20" stroke="#000" stroke-width="1.9" stroke-linecap="butt"/>
<text class="s" font-size="17.2" text-anchor="end" transform="translate(88.50 748.61) scale(1 1.015)">15</text>
<line x1="98.20" y1="931.45" x2="101.90" y2="931.45" stroke="#000" stroke-width="1.9" stroke-linecap="butt"/>
<line x1="98.20" y1="855.75" x2="101.90" y2="855.75" stroke="#000" stroke-width="1.9" stroke-linecap="butt"/>
<line x1="98.20" y1="780.05" x2="101.90" y2="780.05" stroke="#000" stroke-width="1.9" stroke-linecap="butt"/>
<line x1="104.40" y1="976.70" x2="104.40" y2="982.90" stroke="#000" stroke-width="1.7" stroke-linecap="butt"/>
<text class="s" font-size="17.2" text-anchor="middle" transform="translate(104.40 1006.51) scale(1 1.015)">0</text>
<line x1="242.45" y1="976.70" x2="242.45" y2="982.90" stroke="#000" stroke-width="1.7" stroke-linecap="butt"/>
<text class="s" font-size="17.2" text-anchor="middle" transform="translate(242.45 1006.51) scale(1 1.015)">5</text>
<line x1="380.50" y1="976.70" x2="380.50" y2="982.90" stroke="#000" stroke-width="1.7" stroke-linecap="butt"/>
<text class="s" font-size="17.2" text-anchor="middle" transform="translate(380.50 1006.51) scale(1 1.015)">10</text>
<line x1="518.55" y1="976.70" x2="518.55" y2="982.90" stroke="#000" stroke-width="1.7" stroke-linecap="butt"/>
<text class="s" font-size="17.2" text-anchor="middle" transform="translate(518.55 1006.51) scale(1 1.015)">15</text>
<line x1="656.60" y1="976.70" x2="656.60" y2="982.90" stroke="#000" stroke-width="1.7" stroke-linecap="butt"/>
<text class="s" font-size="17.2" text-anchor="middle" transform="translate(656.60 1006.51) scale(1 1.015)">20</text>
<line x1="173.43" y1="976.70" x2="173.43" y2="980.20" stroke="#000" stroke-width="1.9" stroke-linecap="butt"/>
<line x1="311.48" y1="976.70" x2="311.48" y2="980.20" stroke="#000" stroke-width="1.9" stroke-linecap="butt"/>
<line x1="449.52" y1="976.70" x2="449.52" y2="980.20" stroke="#000" stroke-width="1.9" stroke-linecap="butt"/>
<line x1="587.58" y1="976.70" x2="587.58" y2="980.20" stroke="#000" stroke-width="1.9" stroke-linecap="butt"/>
<circle cx="138.10" cy="763.30" r="4.3" fill="#000"/>
<circle cx="106.40" cy="927.00" r="4.3" fill="#000"/>
<circle cx="111.60" cy="951.80" r="4.3" fill="#000"/>
<circle cx="113.90" cy="959.80" r="4.3" fill="#000"/>
<circle cx="113.10" cy="966.20" r="4.3" fill="#000"/>
<circle cx="104.20" cy="959.80" r="4.3" fill="#000"/>
<circle cx="105.90" cy="968.00" r="4.3" fill="#000"/>
<circle cx="107.20" cy="969.20" r="4.3" fill="#000"/>
<circle cx="103.70" cy="967.20" r="4.3" fill="#000"/>
<circle cx="105.20" cy="964.20" r="4.3" fill="#000"/>
<line x1="104.60" y1="974.40" x2="138.75" y2="790.70" stroke="#000" stroke-width="1.8" stroke-linecap="butt"/>
<polygon points="351.10,942.10 352.42,945.89 356.43,945.97 353.23,948.39 354.39,952.23 351.10,949.94 347.81,952.23 348.97,948.39 345.77,945.97 349.78,945.89" fill="#000"/>
<polygon points="578.80,898.60 580.12,902.39 584.13,902.47 580.93,904.89 582.09,908.73 578.80,906.44 575.51,908.73 576.67,904.89 573.47,902.47 577.48,902.39" fill="#000"/>
<text class="s" font-size="16.95" text-anchor="middle" transform="translate(381.40 1029.40) scale(1 1.015)">Predicted increased fold</text>
<text class="s" font-size="17.05" text-anchor="middle" transform="translate(62.80 863.00) rotate(-90) scale(1 1.015)">Measured increased fold</text>
<line x1="240.80" y1="742.05" x2="240.80" y2="866.80" stroke="#000" stroke-width="1.9" stroke-linecap="butt"/>
<line x1="239.90" y1="865.90" x2="524.90" y2="865.90" stroke="#000" stroke-width="1.9" stroke-linecap="butt"/>
<line x1="234.80" y1="862.20" x2="240.80" y2="862.20" stroke="#000" stroke-width="1.9" stroke-linecap="butt"/>
<text class="s" font-size="17.2" text-anchor="end" transform="translate(227.00 868.61) scale(1 1.015)">0</text>
<line x1="234.80" y1="822.45" x2="240.80" y2="822.45" stroke="#000" stroke-width="1.9" stroke-linecap="butt"/>
<text class="s" font-size="17.2" text-anchor="end" transform="translate(227.00 828.86) scale(1 1.015)">5</text>
<line x1="234.80" y1="782.70" x2="240.80" y2="782.70" stroke="#000" stroke-width="1.9" stroke-linecap="butt"/>
<text class="s" font-size="17.2" text-anchor="end" transform="translate(227.00 789.11) scale(1 1.015)">10</text>
<line x1="234.80" y1="742.95" x2="240.80" y2="742.95" stroke="#000" stroke-width="1.9" stroke-linecap="butt"/>
<text class="s" font-size="17.2" text-anchor="end" transform="translate(227.00 749.36) scale(1 1.015)">15</text>
<line x1="237.60" y1="842.33" x2="240.80" y2="842.33" stroke="#000" stroke-width="1.9" stroke-linecap="butt"/>
<line x1="237.60" y1="802.58" x2="240.80" y2="802.58" stroke="#000" stroke-width="1.9" stroke-linecap="butt"/>
<line x1="237.60" y1="762.83" x2="240.80" y2="762.83" stroke="#000" stroke-width="1.9" stroke-linecap="butt"/>
<line x1="241.10" y1="865.90" x2="241.10" y2="871.80" stroke="#000" stroke-width="1.7" stroke-linecap="butt"/>
<text class="s" font-size="17.2" text-anchor="middle" transform="translate(241.10 895.51) scale(1 1.015)">0.0</text>
<line x1="335.45" y1="865.90" x2="335.45" y2="871.80" stroke="#000" stroke-width="1.7" stroke-linecap="butt"/>
<text class="s" font-size="17.2" text-anchor="middle" transform="translate(335.45 895.51) scale(1 1.015)">0.5</text>
<line x1="429.80" y1="865.90" x2="429.80" y2="871.80" stroke="#000" stroke-width="1.7" stroke-linecap="butt"/>
<text class="s" font-size="17.2" text-anchor="middle" transform="translate(429.80 895.51) scale(1 1.015)">1.0</text>
<line x1="524.15" y1="865.90" x2="524.15" y2="871.80" stroke="#000" stroke-width="1.7" stroke-linecap="butt"/>
<text class="s" font-size="17.2" text-anchor="middle" transform="translate(524.15 895.51) scale(1 1.015)">1.5</text>
<circle cx="252.00" cy="839.60" r="4.3" fill="#000"/>
<circle cx="290.70" cy="852.40" r="4.3" fill="#000"/>
<circle cx="304.20" cy="856.40" r="4.3" fill="#000"/>
<circle cx="295.10" cy="860.00" r="4.3" fill="#000"/>
<circle cx="299.50" cy="860.80" r="4.3" fill="#000"/>
<circle cx="258.20" cy="862.20" r="4.3" fill="#000"/>
<circle cx="249.10" cy="858.60" r="4.3" fill="#000"/>
<circle cx="244.70" cy="860.00" r="4.3" fill="#000"/>
<circle cx="241.10" cy="857.10" r="4.3" fill="#000"/>
<circle cx="241.10" cy="862.20" r="4.3" fill="#000"/>
<circle cx="242.90" cy="860.80" r="4.3" fill="#000"/>
<circle cx="470.40" cy="754.20" r="4.3" fill="#000"/>
<line x1="241.10" y1="865.00" x2="471.20" y2="769.20" stroke="#000" stroke-width="1.8" stroke-linecap="butt"/>
</svg>
</body></html>
